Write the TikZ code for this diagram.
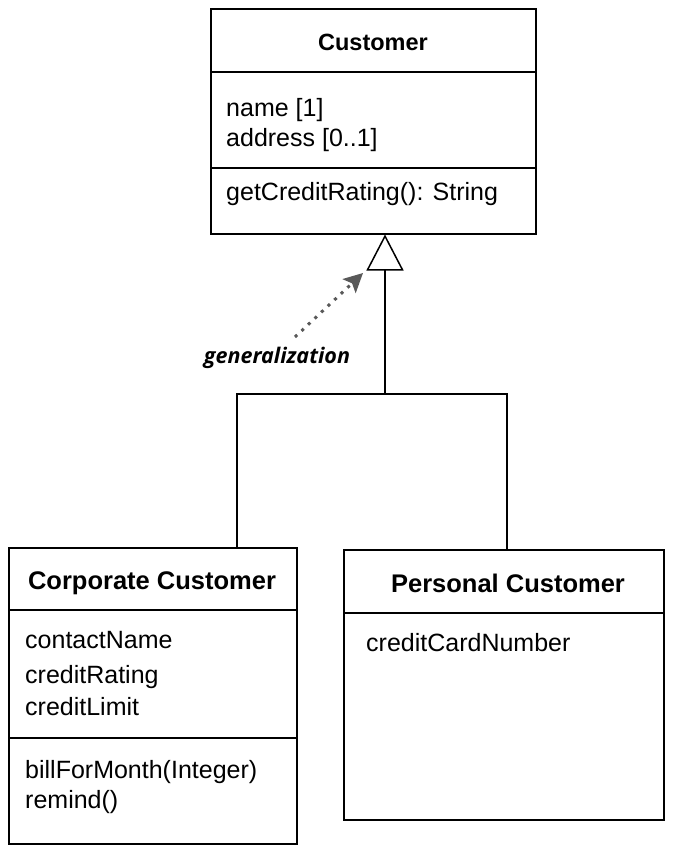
\documentclass[tikz,border=0pt]{standalone}
\usepackage{fontspec}
\setmainfont{Liberation Sans}
\newfontfamily\handfont{Open Sans}
\usetikzlibrary{arrows.meta}
\tikzset{
  classbox/.style={draw, line width=1.5pt, inner sep=0pt, anchor=north west},
  divline/.style={line width=1.5pt},
  titletext/.style={anchor=base, inner sep=0pt, font=\fontsize{24.5}{29}\selectfont\bfseries},
  attrtext/.style={anchor=base west, inner sep=0pt, font=\fontsize{25}{30}\selectfont},
  link/.style={line width=1.5pt},
  genarrow/.style={line width=1.5pt, -{Triangle[open, length=36pt, width=37pt]}},
  genlabel/.style={anchor=base, inner sep=0pt, font=\handfont\fontsize{21.5}{26}\selectfont\bfseries\itshape},
  genline/.style={draw=black!65, line width=3pt, dash pattern=on 3pt off 6pt,
    -{Stealth[length=19pt, width=19pt, inset=4pt, fill=black!65]}}
}
\begin{document}
\begin{tikzpicture}[x=1pt, y=-1pt]
\useasboundingbox (0,0) rectangle (683,854);

% Customer
\node[classbox, minimum width=325pt, minimum height=225pt] (cust) at (210,8) {};
\draw[divline] (cust.west |- 0,72) -- (cust.east |- 0,72);
\draw[divline] (cust.west |- 0,168) -- (cust.east |- 0,168);
\node[titletext, font=\fontsize{23.5}{28}\selectfont\bfseries] (custT) at (373,50) {Customer};
\node[attrtext] (custA1) at (226,116) {name [1]};
\node[attrtext] (custA2) at (226,146) {address [0..1]};
\node[attrtext] (custM1) at (226,200) {getCreditRating(): String};

% Corporate Customer
\node[classbox, minimum width=288pt, minimum height=296pt] (corp) at (8,547) {};
\draw[divline] (corp.west |- 0,610) -- (corp.east |- 0,610);
\draw[divline] (corp.west |- 0,738) -- (corp.east |- 0,738);
\node[titletext, font=\fontsize{25.5}{30}\selectfont\bfseries] (corpT) at (152,589) {Corporate Customer};
\node[attrtext] (corpA1) at (25,648) {contactName};
\node[attrtext] (corpA2) at (25,683) {creditRating};
\node[attrtext] (corpA3) at (25,715) {creditLimit};
\node[attrtext] (corpM1) at (25,778) {billForMonth(Integer)};
\node[attrtext] (corpM2) at (25,808) {remind()};

% Personal Customer
\node[classbox, minimum width=320pt, minimum height=270pt] (pers) at (343,549) {};
\draw[divline] (pers.west |- 0,613) -- (pers.east |- 0,613);
\node[titletext, font=\fontsize{25.5}{30}\selectfont\bfseries] (persT) at (508,592) {Personal Customer};
\node[attrtext] (persA1) at (366,651) {creditCardNumber};

% Generalization connectors
\coordinate (j) at (385,394);
\coordinate (cj) at (237,394);
\coordinate (pj) at (507,394);
\draw[link] (corp.north -| cj) -- (cj) -- (pj) -- (pers.north -| pj);
\draw[genarrow] (j) -- (cust.south -| j);

% generalization annotation
\node[genlabel] (gen) at (277,363) {generalization};
\coordinate (gstart) at (295,337);
\coordinate (gtip) at (363,273);
\draw[genline] (gstart) -- (gtip);
\end{tikzpicture}
\end{document}
